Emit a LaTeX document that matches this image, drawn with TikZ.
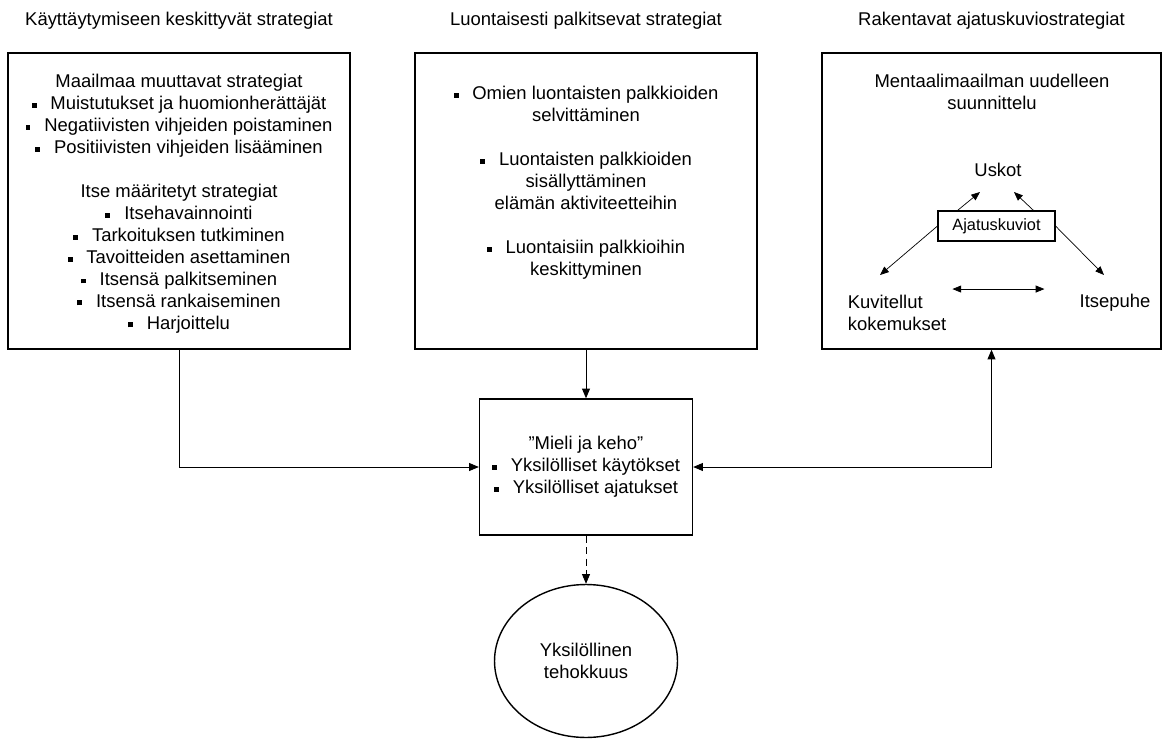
\documentclass[tikz,border=0pt]{standalone}
\usepackage{fontspec}
\setmainfont{Liberation Sans}
\usetikzlibrary{shapes,arrows.meta,positioning,calc}

\newcommand{\bul}{\raisebox{0.22ex}{\rule{0.27em}{0.27em}}\hspace{0.75em}}

\begin{document}
\begin{tikzpicture}[
        x=0.02cm, y=-0.02cm,
        every node/.style={font=\fontsize{10.5}{12.5}\selectfont},
        frame/.style={rectangle, draw, line width=0.8pt, minimum width=6.84cm, minimum height=5.92cm},
        txt/.style={align=center, inner sep=0pt},
        heading/.style={align=center},
        arrow/.style={->, line width=0.5pt, >={Triangle[length=5.5pt,width=4.5pt]}},
        smallarrow/.style={->, line width=0.4pt, >={Triangle[length=5pt,width=4pt]}}
    ]
        \useasboundingbox (0,0) rectangle (1163,740);

        % Strategy boxes
        \node[frame] (beh) at (179,201) {};
        \node[frame] (nat) at (586,201) {};
        \node[frame, minimum width=6.78cm] (cog) at (991.5,201) {};

        % Headings
        \node[heading, above=0.33cm of beh] (behT) {Käyttäytymiseen keskittyvät strategiat};
        \node[heading, above=0.33cm of nat] (natT) {Luontaisesti palkitsevat strategiat};
        \node[heading, above=0.33cm of cog] (cogT) {Rakentavat ajatuskuviostrategiat};

        % Box contents
        \node[txt] (behL) at (179,204) {Maailmaa muuttavat strategiat\\
            \bul Muistutukset ja huomionherättäjät\\
            \bul Negatiivisten vihjeiden poistaminen\\
            \bul Positiivisten vihjeiden lisääminen\\[12.5pt]
            Itse määritetyt strategiat\\
            \bul Itsehavainnointi\\
            \bul Tarkoituksen tutkiminen\\
            \bul Tavoitteiden asettaminen\\
            \bul Itsensä palkitseminen\\
            \bul Itsensä rankaiseminen\\
            \bul Harjoittelu};
        \node[txt] (natL) at (586,183) {\bul Omien luontaisten palkkioiden\\
            selvittäminen\\[12.5pt]
            \bul Luontaisten palkkioiden\\
            sisällyttäminen\\
            elämän aktiviteetteihin\\[12.5pt]
            \bul Luontaisiin palkkioihin\\
            keskittyminen};

        % Mental world
        \node[txt] (ment) at (992,92) {Mentaalimaailman uudelleen\\ suunnittelu};
        \node (usk) at (998,170) {Uskot};
        \node[draw, line width=0.6pt, minimum width=2.34cm, minimum height=0.6cm, font=\fontsize{9.3}{11}\selectfont] (aja) at (996.5,226) {Ajatuskuviot};
        \node[align=left] (kuv) at (897,313) {Kuvitellut\\ kokemukset};
        \node (its) at (1115,303) {Itsepuhe};
        \coordinate (uskL) at (980,192);
        \coordinate (uskR) at (1014,192);
        \coordinate (kuvT) at (880,275);
        \coordinate (itsT) at (1104,275);
        \draw[smallarrow] ([xshift=0.4cm]aja.north west) -- (uskL);
        \draw[smallarrow] ([xshift=-0.44cm]aja.north east) -- (uskR);
        \draw[smallarrow] (aja.west) -- (kuvT);
        \draw[smallarrow] (aja.east) -- (itsT);
        \draw[smallarrow, <->] (kuv.north east) -- ++(92,0);

        % Person and outcome
        \node[frame, minimum width=4.26cm, minimum height=2.72cm, align=center] (mid) at (586,467) {”Mieli ja keho”\\
            \bul Yksilölliset käytökset\\
            \bul Yksilölliset ajatukset};
        \node[ellipse, draw, line width=0.8pt, minimum width=3.66cm, minimum height=3.06cm, align=center] (eff) at (586,661) {Yksilöllinen\\ tehokkuus};

        % Connectors
        \draw[arrow] (beh.south) |- (mid.west);
        \draw[arrow] (nat.south) -- (mid.north);
        \draw[arrow, <->] (mid.east) -| (cog.south);
        \draw[arrow, dash pattern=on 4pt off 2.5pt] (mid.south) -- (eff.north);

    \end{tikzpicture}
\end{document}
